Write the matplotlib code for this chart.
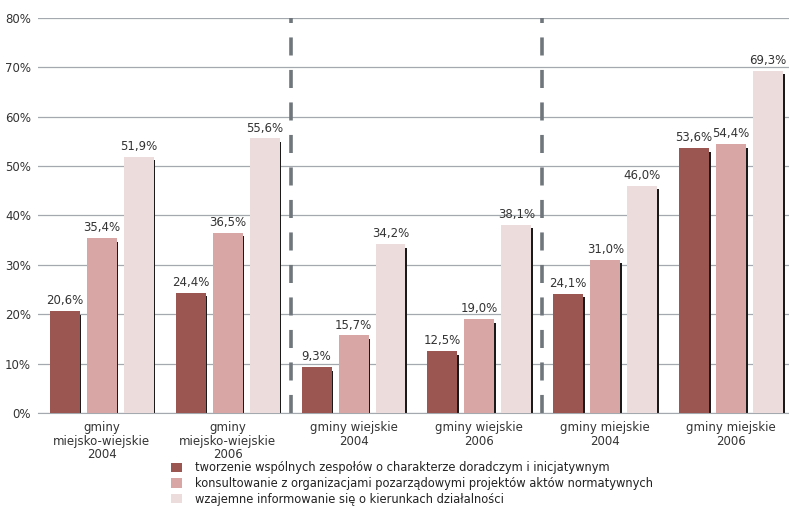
import numpy as np
import matplotlib.pyplot as plt
from matplotlib.patches import Patch

plt.rcParams['font.family'] = ['DejaVu Sans']

categories = ["gminy\nmiejsko-wiejskie\n2004", "gminy\nmiejsko-wiejskie\n2006",
              "gminy wiejskie\n2004", "gminy wiejskie\n2006",
              "gminy miejskie\n2004", "gminy miejskie\n2006"]
series_names = ["tworzenie wspólnych zespołów o charakterze doradczym i inicjatywnym",
                "konsultowanie z organizacjami pozarządowymi projektów aktów normatywnych",
                "wzajemne informowanie się o kierunkach działalności"]
tworzenie = [20.6, 24.4, 9.3, 12.5, 24.1, 53.6]
konsultowanie = [35.4, 36.5, 15.7, 19.0, 31.0, 54.4]
informowanie = [51.9, 55.6, 34.2, 38.1, 46.0, 69.3]
yticks = [0, 10, 20, 30, 40, 50, 60, 70, 80]

colors = ['#9b5652', '#d9a6a6', '#ecdcdc']
series = [tworzenie, konsultowanie, informowanie]

fig = plt.figure(figsize=(7.89, 5.08), dpi=100)
ax = fig.add_axes([0.048, 0.187, 0.952, 0.7776])

x = np.arange(len(categories))
step = 37 / 126
w = 30 / 126
for i, (vals, c) in enumerate(zip(series, colors)):
    pos = x + (i - 1) * step
    # shadow on the right side of each bar
    ax.bar(pos + 0.012, np.array(vals) - 0.7, width=w, color='#1a1a1a', zorder=2)
    ax.bar(pos, vals, width=w, color=c, zorder=3)
    for p, v in zip(pos, vals):
        ax.text(p, v + 0.8, f"{v:.1f}%".replace('.', ','), ha='center', va='bottom',
                fontsize=8.5, color='#333333', zorder=4)

for sep in [1.5, 3.5]:
    ax.axvline(sep, color='#6f767c', lw=2.6, dashes=(5, 4), zorder=1)

ax.set_ylim(0, 80)
ax.set_xlim(-0.508, 5.46)
ax.set_yticks(yticks)
ax.set_yticklabels([f"{t}%" for t in yticks], fontsize=8.5, color='#333333')
ax.yaxis.grid(True, color='#a3a9ae', lw=0.9)
ax.set_axisbelow(True)
ax.set_xticks(x)
ax.set_xticklabels(categories, fontsize=8.5, color='#333333', linespacing=1.05)
ax.tick_params(length=0)
ax.tick_params(axis='x', pad=6)
ax.tick_params(axis='y', pad=5)
for s in ['left', 'right', 'top']:
    ax.spines[s].set_visible(False)
ax.spines['bottom'].set_color('#a3a9ae')

handles = [Patch(facecolor=c, edgecolor='none') for c in colors]
fig.legend(handles, series_names, loc='upper left', bbox_to_anchor=(0.210, 0.103),
           frameon=False, fontsize=8.3, handlelength=0.9, handleheight=0.9,
           labelspacing=0.22, handletextpad=1.1, borderpad=0, labelcolor='#222222')

fig.savefig('out.png', dpi=100)
